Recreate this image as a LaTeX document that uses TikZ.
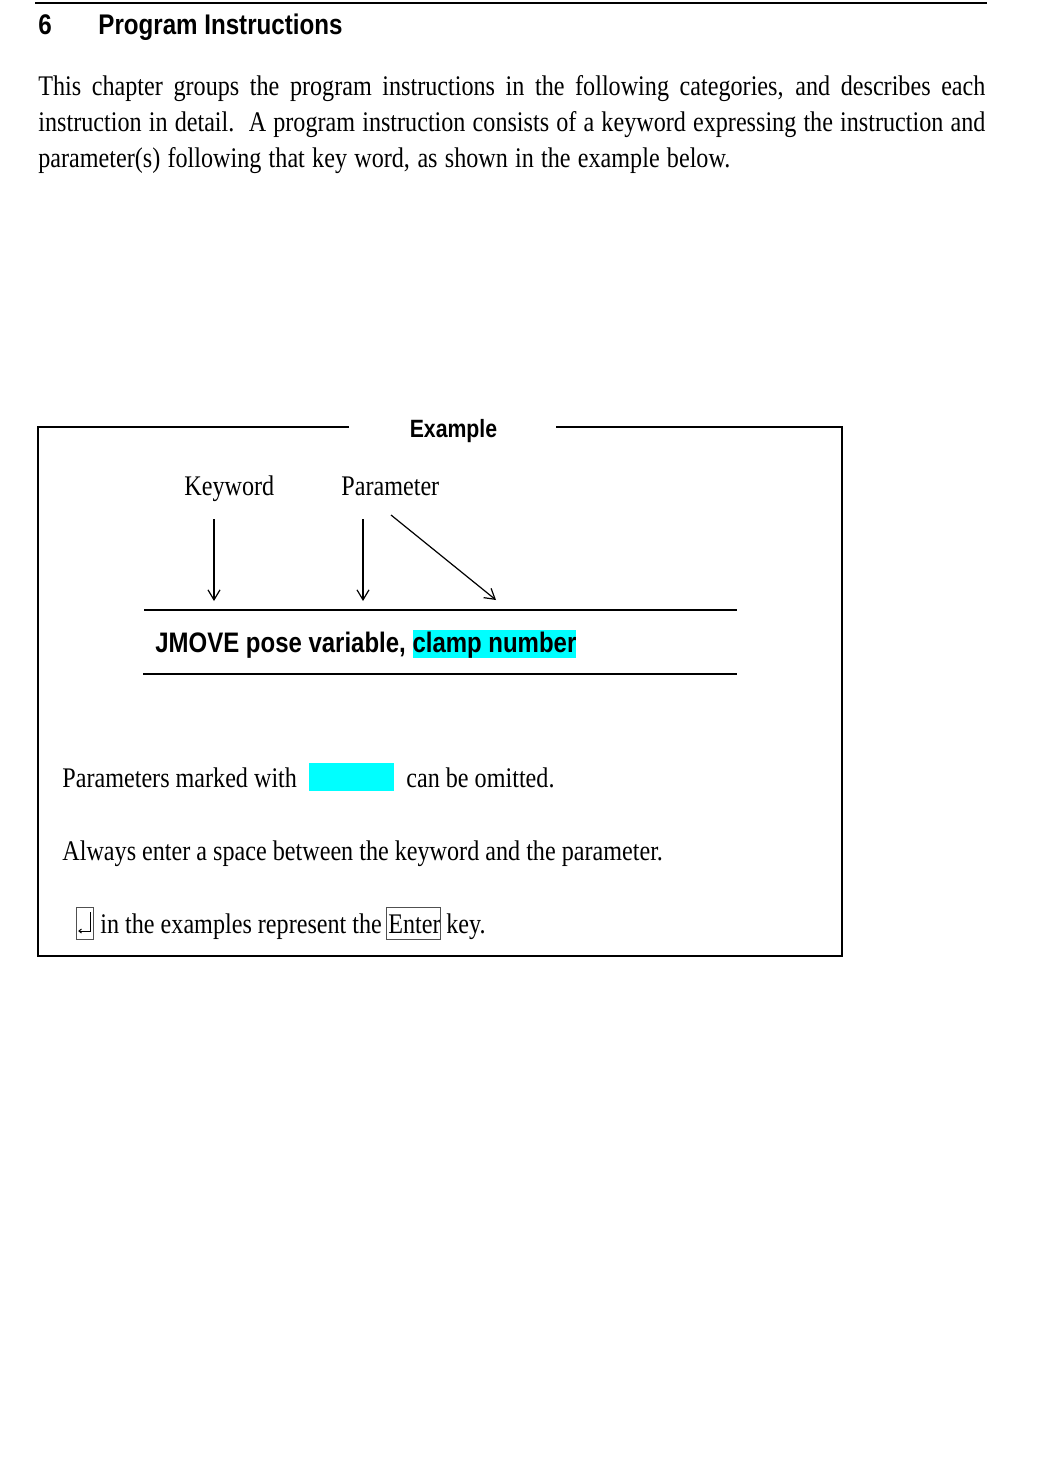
\documentclass[tikz,border=0pt]{standalone}
\usepackage{fontspec}
\setmainfont{Liberation Serif}[FakeStretch=0.85]
\setsansfont{Liberation Sans}[FakeStretch=0.85]
\usetikzlibrary{arrows.meta}
\definecolor{hl}{HTML}{00FFFF}
\definecolor{keygray}{HTML}{505050}
\begin{document}
\begin{tikzpicture}[x=0.5pt,y=-0.5pt,
  body/.style={anchor=base west, inner sep=0pt, font=\fontsize{14.2pt}{18pt}\selectfont},
  sanshead/.style={anchor=base west, inner sep=0pt, font=\sffamily\bfseries\fontsize{14.2pt}{17pt}\selectfont},
  rule/.style={line width=0.7pt},
  thin/.style={line width=0.6pt},
  pointer/.style={line width=0.6pt, -{Straight Barb[length=5pt,width=6pt]}},
  keybox/.style={draw=keygray, line width=0.5pt, inner sep=0pt}]
\useasboundingbox (0,0) rectangle (1038,1472);
% header rule
\draw[rule] (35,3) -- (987,3);
% title
\node[sanshead] (num) at (38,34) {6};
\node[sanshead] (title) at (98,34) {Program Instructions};
% paragraph
\node[body] (p1) at (38,95) {\makebox[473.5pt][s]{This chapter groups the program instructions in the following categories, and describes each}};
\node[body] (p2) at (38,131) {\makebox[473.5pt][s]{instruction in detail.\ \ A program instruction consists of a keyword expressing the instruction and}};
\node[body] (p3) at (38,167) {\makebox[346pt][s]{parameter(s) following that key word, as shown in the example below.}};
% example frame
\node[anchor=base, inner sep=0pt, font=\sffamily\bfseries\fontsize{12.5pt}{15pt}\selectfont] (extitle) at (453.5,437) {Example};
\draw[thin] (349,427) -- (38,427) -- (38,956) -- (842,956) -- (842,427) -- (556,427);
% labels
\node[body] (kw) at (184,495) {Keyword};
\node[body] (par) at (341,495) {Parameter};
\coordinate (kwtop) at (214,519);
\coordinate (kwend) at (214,601);
\coordinate (partop) at (363,519);
\coordinate (parend) at (363,601);
\coordinate (par2top) at (391,515);
\coordinate (par2end) at (496,600);
\draw[pointer] (kwtop) -- (kwend);
\draw[pointer] (partop) -- (parend);
\draw[pointer] (par2top) -- (par2end);
% command line
\coordinate (l1a) at (144,610);
\coordinate (l1b) at (737,610);
\coordinate (l2a) at (143,674);
\coordinate (l2b) at (737,674);
\draw[thin] (l1a) -- (l1b);
\draw[thin] (l2a) -- (l2b);
\node[anchor=base west, inner sep=0pt, font=\sffamily\bfseries\fontsize{14.1pt}{17pt}\selectfont] (cmd) at (155,652)
  {JMOVE pose variable, {\setlength{\fboxsep}{0pt}\colorbox{hl}{\rule[-3pt]{0pt}{14pt}clamp number}}};
% notes
\node[body] (n1) at (62,787) {Parameters marked with};
\node[fill=hl, inner sep=0pt, minimum width=42.5pt, minimum height=14pt] (swatch) at (351.5,777) {};
\node[body] (n1b) at (406,787) {can be omitted.};
\node[body] (n2) at (62,860) {Always enter a space between the keyword and the parameter.};
\node[keybox, draw, minimum width=8.5pt, minimum height=16pt] (retkey) at (84.5,923) {};
\draw[line width=0.5pt] (90,912) -- (90,931) -- (79,931);
\draw[line width=0.5pt] (81.5,929) -- (79,931) -- (81.5,933);
\node[body] (n3) at (100,933) {in the examples represent the};
\node[body] (entertxt) at (388,933) {Enter};
\node[keybox, draw, minimum width=27pt, minimum height=16pt] (enterbox) at (413,923) {};
\node[body] (n3b) at (446,933) {key.};
\end{tikzpicture}
\end{document}
